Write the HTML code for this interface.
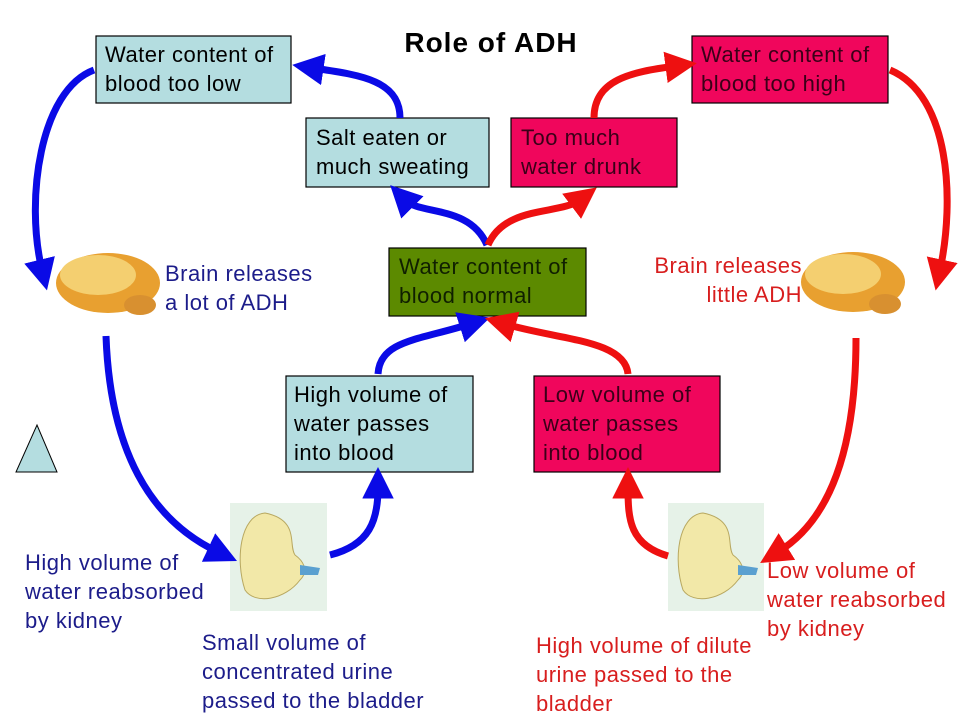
<!DOCTYPE html>
<html><head><style>
html,body{margin:0;padding:0;background:#fff}
svg{display:block}
text{font-family:"Liberation Sans",Arial,sans-serif;font-size:22px;letter-spacing:0.5px}
.bl{fill:#1c1c8a}.rd{fill:#d81e1e}
</style></head><body>
<svg width="960" height="720" viewBox="0 0 960 720" xmlns="http://www.w3.org/2000/svg">
<defs>
<marker id="ab" markerWidth="4.5" markerHeight="4.5" refX="1.5" refY="2.25" orient="auto" markerUnits="strokeWidth"><path d="M0,0 L4.5,2.25 L0,4.5 z" fill="#0a0ae6"/></marker>
<marker id="ar" markerWidth="4.5" markerHeight="4.5" refX="1.5" refY="2.25" orient="auto" markerUnits="strokeWidth"><path d="M0,0 L4.5,2.25 L0,4.5 z" fill="#ee1010"/></marker>
</defs>
<text x="491" y="52" text-anchor="middle" style="font-size:28px;font-weight:bold;letter-spacing:1px" fill="#000">Role of ADH</text>

<rect x="96" y="36" width="195" height="67" fill="#b4dde0" stroke="#000" stroke-width="1.2"/>
<text x="105" y="62">Water content of</text><text x="105" y="91">blood too low</text>
<rect x="306" y="118" width="183" height="69" fill="#b4dde0" stroke="#000" stroke-width="1.2"/>
<text x="316" y="145">Salt eaten or</text><text x="316" y="174">much sweating</text>
<rect x="511" y="118" width="166" height="69" fill="#f0065c" stroke="#000" stroke-width="1.2"/>
<text x="521" y="145" fill="#3a0018">Too much</text><text x="521" y="174" fill="#3a0018">water drunk</text>
<rect x="692" y="36" width="196" height="67" fill="#f0065c" stroke="#000" stroke-width="1.2"/>
<text x="701" y="62" fill="#3a0018">Water content of</text><text x="701" y="91" fill="#3a0018">blood too high</text>
<rect x="389" y="248" width="197" height="68" fill="#5c8a00" stroke="#000" stroke-width="1.2"/>
<text x="399" y="274" fill="#102000">Water content of</text><text x="399" y="303" fill="#102000">blood normal</text>
<rect x="286" y="376" width="187" height="96" fill="#b4dde0" stroke="#000" stroke-width="1.2"/>
<text x="294" y="402">High volume of</text><text x="294" y="431">water passes</text><text x="294" y="460">into blood</text>
<rect x="534" y="376" width="186" height="96" fill="#f0065c" stroke="#000" stroke-width="1.2"/>
<text x="543" y="402" fill="#3a0018">Low volume of</text><text x="543" y="431" fill="#3a0018">water passes</text><text x="543" y="460" fill="#3a0018">into blood</text>

<polygon points="16,472 57,472 37,425" fill="#b4dde0" stroke="#000" stroke-width="1"/>

<g>
<ellipse cx="108" cy="283" rx="52" ry="30" fill="#e8a030"/>
<ellipse cx="98" cy="275" rx="38" ry="20" fill="#f4cf70"/>
<ellipse cx="140" cy="305" rx="16" ry="10" fill="#d89030"/>
</g>
<g>
<ellipse cx="853" cy="282" rx="52" ry="30" fill="#e8a030"/>
<ellipse cx="843" cy="274" rx="38" ry="20" fill="#f4cf70"/>
<ellipse cx="885" cy="304" rx="16" ry="10" fill="#d89030"/>
</g>

<rect x="230" y="503" width="97" height="108" fill="#e6f2e8"/>
<path d="M265,513 C240,515 235,560 245,590 C255,605 285,600 300,580 C310,570 302,560 295,555 C288,545 300,520 265,513 Z" fill="#f2e8a8" stroke="#b8a860"/>
<path d="M300,565 L320,568 L318,575 L300,575 Z" fill="#5aa0d0"/>
<rect x="668" y="503" width="96" height="108" fill="#e6f2e8"/>
<path d="M703,513 C678,515 673,560 683,590 C693,605 723,600 738,580 C748,570 740,560 733,555 C726,545 738,520 703,513 Z" fill="#f2e8a8" stroke="#b8a860"/>
<path d="M738,565 L758,568 L756,575 L738,575 Z" fill="#5aa0d0"/>

<g fill="none" stroke="#0a0ae6" stroke-width="7">
<path d="M94,70 C40,90 25,200 42,270" marker-end="url(#ab)"/>
<path d="M106,336 C110,450 150,520 218,552" marker-end="url(#ab)"/>
<path d="M330,555 C370,545 378,520 378,488" marker-end="url(#ab)"/>
<path d="M378,374 C380,340 420,340 470,324" marker-end="url(#ab)"/>
<path d="M487,245 C470,205 420,215 405,200" marker-end="url(#ab)"/>
<path d="M400,118 C400,80 360,75 313,68" marker-end="url(#ab)"/>
</g>
<g fill="none" stroke="#ee1010" stroke-width="7">
<path d="M488,245 C505,205 560,215 580,200" marker-end="url(#ar)"/>
<path d="M594,118 C594,80 630,72 676,66" marker-end="url(#ar)"/>
<path d="M890,70 C950,95 955,200 940,270" marker-end="url(#ar)"/>
<path d="M856,338 C856,450 830,520 778,552" marker-end="url(#ar)"/>
<path d="M668,556 C630,545 628,520 628,488" marker-end="url(#ar)"/>
<path d="M628,374 C625,340 560,340 505,324" marker-end="url(#ar)"/>
</g>

<text class="bl" x="165" y="281">Brain releases</text>
<text class="bl" x="165" y="310">a lot of ADH</text>
<text class="rd" x="802" y="273" text-anchor="end">Brain releases</text>
<text class="rd" x="802" y="302" text-anchor="end">little ADH</text>
<text class="bl" x="25" y="570">High volume of</text>
<text class="bl" x="25" y="599">water reabsorbed</text>
<text class="bl" x="25" y="628">by kidney</text>
<text class="bl" x="202" y="650">Small volume of</text>
<text class="bl" x="202" y="679">concentrated urine</text>
<text class="bl" x="202" y="708">passed to the bladder</text>
<text class="rd" x="767" y="578">Low volume of</text>
<text class="rd" x="767" y="607">water reabsorbed</text>
<text class="rd" x="767" y="636">by kidney</text>
<text class="rd" x="536" y="653">High volume of dilute</text>
<text class="rd" x="536" y="682">urine passed to the</text>
<text class="rd" x="536" y="711">bladder</text>
</svg>
</body></html>
